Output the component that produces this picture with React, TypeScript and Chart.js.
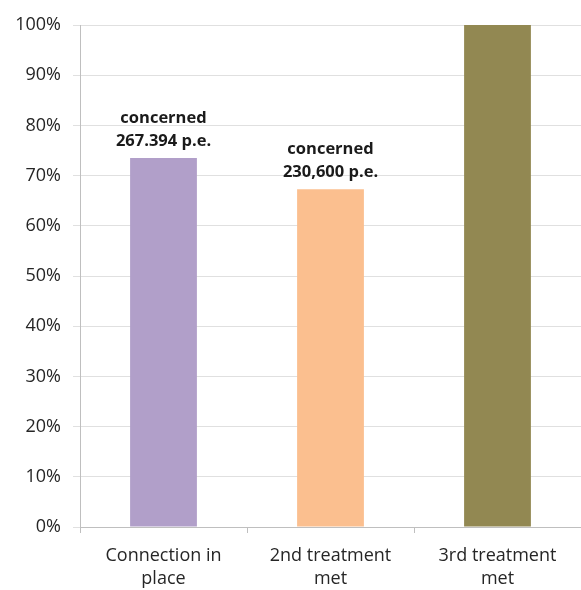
import React, { useEffect, useRef } from "react";
import { Chart, registerables } from "chart.js";

Chart.register(...registerables);

const categories: string[][] = [
  ["Connection in", "place"],
  ["2nd treatment", "met"],
  ["3rd treatment", "met"],
];
const values: number[] = [73.5, 67.3, 100];
const barColors: string[] = ["#b19fc9", "#fbbf8f", "#928852"];
const annotations: string[][] = [
  ["concerned", "267.394 p.e."],
  ["concerned", "230,600 p.e."],
  [],
];
const yTicks: number[] = [0, 10, 20, 30, 40, 50, 60, 70, 80, 90, 100];

const FONT = "'Open Sans', 'Noto Sans', sans-serif";

const annotationPlugin = {
  id: "barAnnotations",
  afterDatasetsDraw(chart: any) {
    const meta = chart.getDatasetMeta(0);
    const ctx = chart.ctx;
    ctx.save();
    ctx.fillStyle = "#1a1a1a";
    ctx.font = `bold 16.5px ${FONT}`;
    ctx.textAlign = "center";
    ctx.textBaseline = "alphabetic";
    meta.data.forEach((bar: any, i: number) => {
      const lines = annotations[i] || [];
      const { x, y } = bar.getProps(["x", "y"], true);
      const lh = 23;
      lines.forEach((line, j) => {
        const baseline = y - 12 - (lines.length - 1 - j) * lh;
        ctx.fillText(line, x, baseline);
      });
    });
    ctx.restore();
  },
};

export default function App() {
  const ref = useRef<HTMLCanvasElement | null>(null);
  useEffect(() => {
    if (!ref.current) return;
    const chart = new Chart(ref.current, {
      type: "bar",
      data: {
        labels: categories,
        datasets: [
          {
            data: values,
            backgroundColor: barColors,
            barPercentage: 0.4,
            categoryPercentage: 1,
          },
        ],
      },
      options: {
        animation: false,
        responsive: false,
        maintainAspectRatio: false,
        layout: { padding: { top: 25, right: 0, left: 0, bottom: 0 } },
        plugins: { legend: { display: false }, tooltip: { enabled: false } },
        scales: {
          x: {
            offset: true,
            grid: {
              offset: true,
              drawOnChartArea: false,
              drawTicks: true,
              tickLength: 6,
              color: "#bfbfbf",
            },
            border: { color: "#bfbfbf" },
            ticks: {
              color: "#262626",
              font: { family: FONT, size: 18, lineHeight: 1.3 },
              padding: 11,
              maxRotation: 0,
              autoSkip: false,
            },
            afterFit(scale: any) {
              scale.height = 63;
            },
          },
          y: {
            min: 0,
            max: 100,
            afterBuildTicks(scale: any) {
              scale.ticks = yTicks.map((v) => ({ value: v }));
            },
            grid: { color: "#e0e0e0", tickLength: 7, drawTicks: true },
            border: { color: "#bfbfbf" },
            ticks: {
              color: "#262626",
              font: { family: FONT, size: 18 },
              padding: 12,
              callback: (v: any) => `${v}%`,
            },
            afterFit(scale: any) {
              scale.width = 80;
            },
          },
        },
      },
      plugins: [annotationPlugin],
    });
    return () => chart.destroy();
  }, []);
  return (
    <div style={{ position: "fixed", left: 0, top: 0, width: 581, height: 590, background: "#fff" }}>
      <canvas ref={ref} width={581} height={590} style={{ width: 581, height: 590 }} />
    </div>
  );
}
